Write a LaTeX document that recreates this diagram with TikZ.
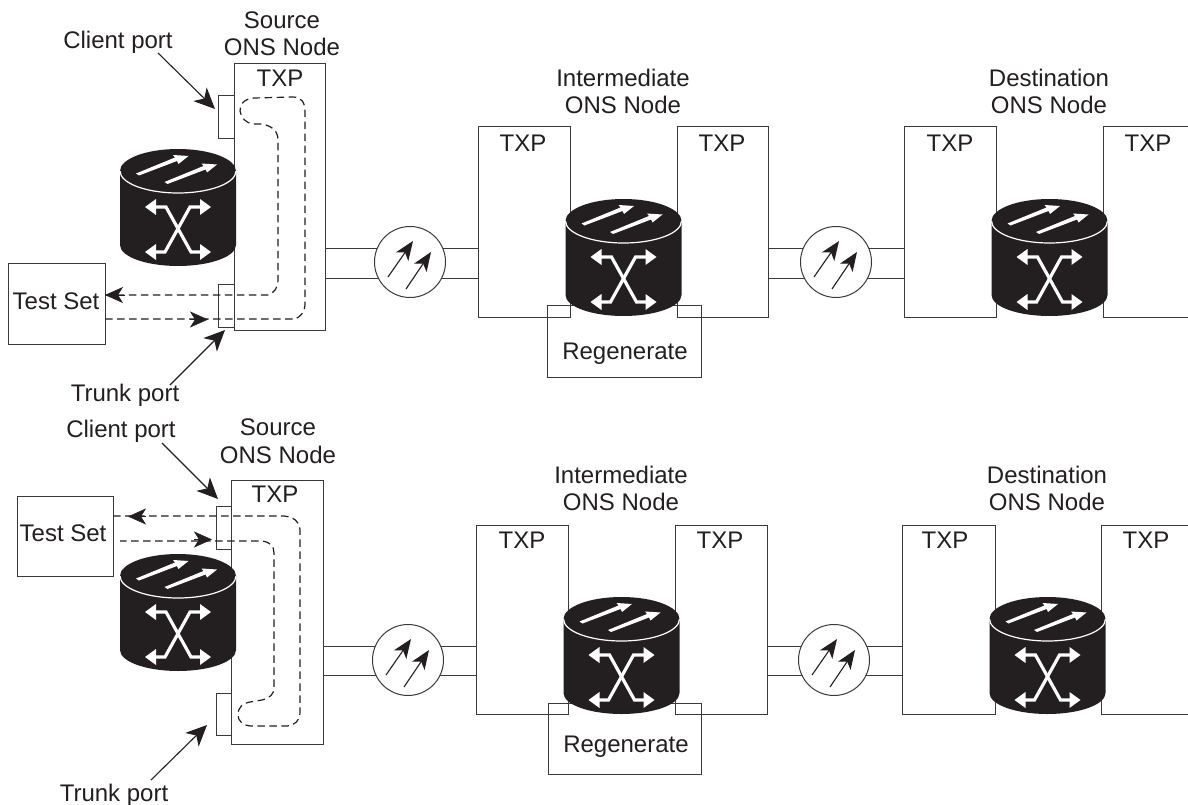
\documentclass[tikz,border=0pt]{standalone}
\usepackage{fontspec}
\setmainfont{Liberation Sans}
\usetikzlibrary{arrows.meta}
\definecolor{ink}{HTML}{231F20}
\definecolor{edge}{HTML}{3A3A3A}
\tikzset{
  ln/.style={draw=edge,line width=1pt},
  boxn/.style={ln,rectangle,inner sep=0pt,outer sep=0pt},
  lab/.style={text=ink,font=\fontsize{24}{27.5}\selectfont,align=center,inner sep=0pt,outer sep=0pt},
  callout/.style={draw=ink,line width=1.1pt,-{Stealth[length=21pt,width=19pt,inset=6pt]}},
  dashp/.style={draw=ink,line width=1.2pt,dash pattern=on 7.5pt off 4.5pt},
  midhead/.style={draw=ink,solid,line width=.6pt,-{Stealth[length=18pt,width=16pt,inset=5pt]}},
  pics/router/.style={code={
    \fill[ink] (-58,0) -- (-58,74) arc[start angle=180,end angle=0,x radius=58,y radius=21] -- (58,0) -- cycle;
    \fill[ink] (0,0) ellipse[x radius=58,y radius=22];
    \draw[white,line width=1.2pt] (-58,0) arc[start angle=180,end angle=0,x radius=58,y radius=22];
    \fill[white] (-42,2.5) -- (-3,-13.5) -- (-5,-16) -- (10.5,-15) -- (.5,-7) -- (-1,-10) -- (-39,4.5) -- cycle;
    \fill[white,shift={(28.5,8.5)}] (-42,2.5) -- (-3,-13.5) -- (-5,-16) -- (10.5,-15) -- (.5,-7) -- (-1,-10) -- (-39,4.5) -- cycle;
    \draw[white,line width=3.2pt,line join=miter] (-26,36) -- (-12,36) -- (13,81) -- (26,81);
    \draw[white,line width=3.2pt,line join=miter] (26,36) -- (12,36) -- (-13,81) -- (-26,81);
    \fill[white] (-33,36) -- (-22,28) -- (-22,44) -- cycle;
    \fill[white] (33,36) -- (22,28) -- (22,44) -- cycle;
    \fill[white] (-33,81) -- (-22,73) -- (-22,89) -- cycle;
    \fill[white] (33,81) -- (22,73) -- (22,89) -- cycle;
  }},
  pics/amp/.style={code={
    \draw[ink,line width=1.1pt,-{Stealth[length=19pt,width=15pt,inset=5pt]}] (-22,15) -- (3,-21);
    \draw[ink,line width=1.1pt,-{Stealth[length=19pt,width=15pt,inset=5pt]}] (-4,27) -- (21,-10);
  }},
}
\newcommand{\boxnode}[5]{% name, x1, y1, x2, y2
  \pgfmathsetmacro{\bw}{#4-#2}\pgfmathsetmacro{\bh}{#5-#3}
  \node[boxn,minimum width=\bw pt,minimum height=\bh pt] (#1) at ({(#2+#4)/2},{(#3+#5)/2}) {};}
\begin{document}
\begin{tikzpicture}[x=1pt,y=-1pt]
\useasboundingbox (0,0) rectangle (1188,805);
\fill[white] (0,0) rectangle (1188,805);

%% ---------- top row ----------
\boxnode{sa}{234}{63.5}{325}{330}
\boxnode{cpa}{218}{96}{234}{139}
\boxnode{tpa}{218}{284}{234}{327}
\boxnode{tsa}{8.5}{263}{105}{344}
\boxnode{ila}{478}{127}{570}{317}
\boxnode{ira}{677}{127}{768}{317}
\boxnode{dla}{904}{127}{996}{317}
\boxnode{rga}{547}{305}{701}{377}
\coordinate (dra) at (1103,127);
\coordinate (drb) at (1103,317);
\draw[ln] (1188,127) -- (dra) -- (drb) -- (1188,317);

\node[lab] (t1) at (118,42) {Client port};
\node[lab] (t2) at (282,33.5) {Source\\ONS Node};
\node[lab] (t3) at (280,78) {TXP};
\node[lab] (t4) at (56,301) {Test Set};
\node[lab] (t5) at (125,395) {Trunk port};
\node[lab] (t6) at (623,91.5) {Intermediate\\ONS Node};
\node[lab] (t7) at (1049,91.5) {Destination\\ONS Node};
\node[lab] (t8) at (523,143) {TXP};
\node[lab] (t9) at (722,143) {TXP};
\node[lab] (t10) at (950,143) {TXP};
\node[lab] (t11) at (1148,143) {TXP};
\node[lab] (t12) at (625,354) {Regenerate};

\draw[ln] (sa.east |- 0,248) -- (ila.west |- 0,248);
\draw[ln] (sa.east |- 0,278) -- (ila.west |- 0,278);
\draw[ln] (ira.east |- 0,248) -- (dla.west |- 0,248);
\draw[ln] (ira.east |- 0,278) -- (dla.west |- 0,278);
\node[boxn,circle,fill=white,minimum size=71pt] (ca) at (410,262) {};
\node[boxn,circle,fill=white,minimum size=71pt] (cb) at (836,262) {};
\pic at (ca) {amp};
\pic at (cb) {amp};

\pic at (178,171) {router};
\pic at (623.5,221) {router};
\pic at (1049.5,221) {router};

\coordinate (cla) at (158,53);
\coordinate (cta) at (215,109);
\coordinate (tla) at (170,385);
\coordinate (tta) at (225,330);
\draw[callout] (cla) -- (cta);
\draw[callout] (tla) -- (tta);
\draw[dashp] (tsa.east |- 0,319) -- (295,319) .. controls (300,317) and (305,312) .. (305,305) -- (305,112)
  .. controls (305,103) and (302,97) .. (293,97) -- (254,98) .. controls (243,99) and (240,105) .. (240,111)
  .. controls (241,118) and (246,123) .. (253,124) -- (262,124) .. controls (272,126) and (278,131) .. (278,140)
  -- (278,280) .. controls (278,288) and (274,293) .. (268,295) -- (tsa.east |- 0,295);
\coordinate (ha1) at (190,319.5);
\coordinate (ha2) at (208,319.5);
\coordinate (ha3) at (125,295);
\draw[midhead] (ha1) -- (ha2);
\draw[midhead] (ha3) -- (tsa.east |- 0,295);

%% ---------- bottom row ----------
\boxnode{sb}{231}{480}{323}{744}
\boxnode{cpb}{216}{506}{231}{549}
\boxnode{tpb}{216}{693}{231}{735}
\boxnode{tsb}{17}{496}{113}{576}
\boxnode{ilb}{476}{525}{568}{714}
\boxnode{irb}{675}{525}{767}{714}
\boxnode{dlb}{902}{525}{995}{714}
\boxnode{rgb}{548}{703}{701}{774}
\coordinate (drc) at (1101,525);
\coordinate (drd) at (1101,714);
\draw[ln] (1188,525) -- (drc) -- (drd) -- (1188,714);

\node[lab] (b1) at (121,431) {Client port};
\node[lab] (b2) at (278,441) {Source\\ONS Node};
\node[lab] (b3) at (275,494) {TXP};
\node[lab] (b4) at (63,533) {Test Set};
\node[lab] (b5) at (114,795) {Trunk port};
\node[lab] (b6) at (621,488.5) {Intermediate\\ONS Node};
\node[lab] (b7) at (1047,488.5) {Destination\\ONS Node};
\node[lab] (b8) at (522,540) {TXP};
\node[lab] (b9) at (720,540) {TXP};
\node[lab] (b10) at (945,540) {TXP};
\node[lab] (b11) at (1146,540) {TXP};
\node[lab] (b12) at (626,747) {Regenerate};

\draw[ln] (sb.east |- 0,646) -- (ilb.west |- 0,646);
\draw[ln] (sb.east |- 0,675) -- (ilb.west |- 0,675);
\draw[ln] (irb.east |- 0,646) -- (dlb.west |- 0,646);
\draw[ln] (irb.east |- 0,675) -- (dlb.west |- 0,675);
\node[boxn,circle,fill=white,minimum size=71pt] (cc) at (408,660) {};
\node[boxn,circle,fill=white,minimum size=71pt] (cd) at (834,660) {};
\pic at (cc) {amp};
\pic at (cd) {amp};

\pic at (178,576) {router};
\pic at (621.5,619) {router};
\pic at (1047.5,619) {router};

\coordinate (clb) at (162,443);
\coordinate (ctb) at (218,499);
\coordinate (tlb) at (151,780);
\coordinate (ttb) at (207,725);
\draw[callout] (clb) -- (ctb);
\draw[callout] (tlb) -- (ttb);
\draw[dashp] (tsb.east |- 0,516) -- (284,516) .. controls (293,517) and (300,521) .. (300,530) -- (300,712)
  .. controls (300,721) and (295,725) .. (287,726) -- (252,726) .. controls (243,726) and (238,721) .. (238,715)
  .. controls (238,707) and (243,703) .. (250,702) -- (262,700) .. controls (270,698) and (274,694) .. (274,688)
  -- (274,553) .. controls (274,546) and (270,542) .. (262,541) -- (120,541);
\coordinate (hb1) at (146,516.5);
\coordinate (hb2) at (128,516.5);
\coordinate (hb3) at (194,539.5);
\coordinate (hb4) at (212,539.5);
\draw[midhead] (hb1) -- (hb2);
\draw[midhead] (hb3) -- (hb4);
\end{tikzpicture}
\end{document}
